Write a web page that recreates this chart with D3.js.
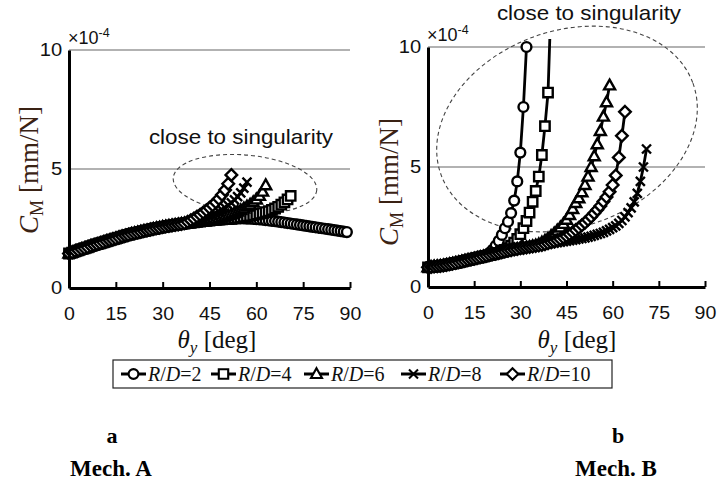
<!DOCTYPE html>
<html>
<head>
<meta charset="utf-8">
<script src="https://cdn.jsdelivr.net/npm/d3@7"></script>
<style>
  body { margin: 0; background: #fff; }
  svg text { font-family: "Liberation Sans", Arial, sans-serif; }
  .serif { font-family: "Liberation Serif", "Times New Roman", serif; }
</style>
</head>
<body>
<script>
// C_M values in units of 1e-4 mm/N, one point per degree of theta_y (starting at 0)
var xTicks = [0, 15, 30, 45, 60, 75, 90];
var yTicks = [0, 5, 10];
var ratios = ["2", "4", "6", "8", "10"];
var markerTypes = ["circle", "square", "triangle", "cross", "diamond"];

// Mech. A -- all curves coincide up to ~36 deg
var mechABase = [1.45, 1.49, 1.54, 1.58, 1.63, 1.67, 1.71, 1.76, 1.80, 1.84,
  1.88, 1.92, 1.96, 2.00, 2.04, 2.08, 2.12, 2.16, 2.20, 2.23,
  2.27, 2.30, 2.33, 2.36, 2.39, 2.42, 2.45, 2.48, 2.51, 2.53,
  2.56, 2.58, 2.61, 2.63, 2.65, 2.67, 2.69];
var mechA2 = mechABase.concat([2.71, 2.73, 2.74,
  2.76, 2.78, 2.79, 2.81, 2.82, 2.83, 2.85, 2.86, 2.87, 2.88,
  2.89, 2.90, 2.91, 2.91, 2.92, 2.92, 2.92, 2.91, 2.91, 2.90,
  2.89, 2.88, 2.87, 2.85, 2.84, 2.82, 2.81, 2.79, 2.77, 2.75,
  2.73, 2.71, 2.69, 2.67, 2.65, 2.63, 2.61, 2.59, 2.57, 2.55,
  2.53, 2.51, 2.49, 2.47, 2.45, 2.43, 2.41, 2.39, 2.37, 2.35]);
var mechA4 = mechABase.concat([2.71, 2.73, 2.74,
  2.76, 2.78, 2.79, 2.81, 2.82, 2.83, 2.85, 2.86, 2.87, 2.88,
  2.89, 2.90, 2.91, 2.93, 2.95, 2.97, 2.99, 3.01, 3.03, 3.06,
  3.09, 3.12, 3.15, 3.19, 3.23, 3.28, 3.34, 3.41, 3.50, 3.60,
  3.72, 3.87]);
var mechA6 = mechABase.concat([2.71, 2.73, 2.74,
  2.76, 2.78, 2.79, 2.81, 2.82, 2.84, 2.87, 2.90, 2.93, 2.97,
  3.01, 3.05, 3.10, 3.15, 3.21, 3.27, 3.34, 3.42, 3.50, 3.60,
  3.72, 3.87, 4.05, 4.32]);
var mechA8 = mechABase.concat([2.71, 2.73, 2.75,
  2.77, 2.80, 2.84, 2.88, 2.93, 2.99, 3.05, 3.12, 3.20, 3.28,
  3.37, 3.47, 3.58, 3.70, 3.84, 4.00, 4.20, 4.45]);
var mechA10 = mechABase.concat([2.72, 2.78, 2.85,
  2.92, 3.00, 3.08, 3.17, 3.27, 3.37, 3.48, 3.60, 3.75, 3.92,
  4.12, 4.38, 4.75]);

// Mech. B -- all curves coincide up to ~19 deg
var mechBBase = [0.82, 0.83, 0.85, 0.86, 0.88, 0.90, 0.92, 0.95, 0.97, 1.00,
  1.03, 1.06, 1.09, 1.12, 1.15, 1.18, 1.21, 1.24, 1.27, 1.30];
var mechB2 = mechBBase.concat([1.42, 1.55, 1.72, 1.92, 2.17, 2.45, 2.72, 3.08, 3.60, 4.40,
  5.60, 7.50, 10.0]);
var mechB4 = mechBBase.concat([1.33, 1.36, 1.39, 1.42, 1.46, 1.55, 1.62, 1.72, 1.85, 2.00,
  2.20, 2.45, 2.75, 3.10, 3.55, 4.00, 4.60, 5.50, 6.70, 8.10,
  12.0]);
var mechB6 = mechBBase.concat([1.33, 1.36, 1.39, 1.42, 1.45, 1.48, 1.51, 1.53, 1.56, 1.58,
  1.61, 1.63, 1.65, 1.67, 1.70, 1.73, 1.78, 1.85, 1.93, 2.02,
  2.12, 2.23, 2.35, 2.48, 2.63, 2.80, 3.00, 3.25, 3.50, 3.70,
  3.95, 4.25, 4.60, 5.00, 5.45, 5.95, 6.50, 7.10, 7.70, 8.40]);
var mechB8 = mechBBase.concat([1.33, 1.36, 1.39, 1.42, 1.45, 1.48, 1.51, 1.53, 1.56, 1.58,
  1.61, 1.63, 1.65, 1.67, 1.69, 1.71, 1.73, 1.75, 1.77, 1.79,
  1.81, 1.83, 1.85, 1.87, 1.89, 1.91, 1.93, 1.95, 1.97, 2.00,
  2.02, 2.05, 2.08, 2.11, 2.15, 2.19, 2.23, 2.28, 2.34, 2.40,
  2.47, 2.55, 2.65, 2.77, 2.92, 3.10, 3.30, 3.55, 3.90, 4.40,
  5.00, 5.75]);
var mechB10 = mechBBase.concat([1.33, 1.36, 1.39, 1.42, 1.45, 1.48, 1.51, 1.53, 1.56, 1.58,
  1.61, 1.63, 1.65, 1.67, 1.69, 1.71, 1.73, 1.75, 1.78, 1.82,
  1.86, 1.90, 1.95, 2.00, 2.06, 2.12, 2.20, 2.28, 2.37, 2.47,
  2.57, 2.68, 2.80, 2.93, 3.07, 3.22, 3.38, 3.56, 3.75, 3.97,
  4.25, 4.65, 5.40, 6.30, 7.30]);

var W = 718, H = 484;
var svg = d3.select("body").append("svg").attr("width", W).attr("height", H);

function markerShape(sel, type) {
  if (type === "circle") {
    sel.append("circle").attr("r", 4.9);
  } else {
    var d = {
      square: "M-4.7,-4.7h9.4v9.4h-9.4z",
      triangle: "M0,-5.8L5.5,4L-5.5,4Z",
      diamond: "M0,-5.8L5.8,0L0,5.8L-5.8,0Z",
      cross: "M-4.5,-4.5L4.5,4.5M4.5,-4.5L-4.5,4.5"
    }[type];
    sel.append("path").attr("d", d);
  }
}

function drawPanel(cfg) {
  var x = d3.scaleLinear().domain([0, 90]).range(cfg.xRange);
  var y = d3.scaleLinear().domain([0, 10]).range(cfg.yRange);
  var g = svg.append("g");

  // grid
  g.selectAll(".grid").data([5, 10]).enter().append("line")
    .attr("x1", x(0)).attr("x2", x(90))
    .attr("y1", function (d) { return y(d); }).attr("y2", function (d) { return y(d); })
    .attr("stroke", "#999").attr("stroke-width", 1.6);

  // dashed ellipse
  g.append("ellipse")
    .attr("transform", "translate(" + cfg.ell.cx + "," + cfg.ell.cy + ") rotate(" + cfg.ell.rot + ")")
    .attr("rx", cfg.ell.rx).attr("ry", cfg.ell.ry)
    .attr("fill", "none").attr("stroke", "#444").attr("stroke-width", 1.1)
    .attr("stroke-dasharray", "4,3");

  g.append("text")
    .attr("transform", "translate(" + cfg.note.x + "," + cfg.note.y + ") scale(1.12,1)")
    .attr("text-anchor", "middle").attr("font-size", 20).attr("fill", "#111")
    .text("close to singularity");

  var clipId = "clip" + cfg.id;
  svg.append("clipPath").attr("id", clipId).append("rect")
    .attr("x", x(0)).attr("y", y(10) - 8).attr("width", x(90) - x(0)).attr("height", y(0) - y(10) + 8);

  var line = d3.line()
    .x(function (d, i) { return x(i); })
    .y(function (d) { return y(d); });

  cfg.series.forEach(function (vals, k) {
    var sg = g.append("g");
    sg.append("path").datum(vals)
      .attr("clip-path", "url(#" + clipId + ")")
      .attr("d", line).attr("fill", "none").attr("stroke", "#000").attr("stroke-width", 2.8);
    var pts = vals.map(function (v, i) { return { t: i, v: v }; })
      .filter(function (p) { return p.v <= 10; });
    sg.selectAll(".m").data(pts).enter().append("g")
      .attr("transform", function (p) { return "translate(" + x(p.t) + "," + y(p.v) + ")"; })
      .attr("fill", "#fff").attr("stroke", "#000").attr("stroke-width", 2.4)
      .each(function () { markerShape(d3.select(this), markerTypes[k]); });
  });

  // x axis with inward ticks
  var xAxis = g.append("g").attr("transform", "translate(0," + y(0) + ")")
    .call(d3.axisBottom(x).tickValues(xTicks).tickSizeInner(-6).tickSizeOuter(0).tickPadding(20));
  xAxis.select(".domain").attr("stroke-width", 3);
  xAxis.selectAll(".tick line").attr("stroke-width", 2);
  xAxis.selectAll("text").attr("font-size", 17.5).attr("font-family", "Liberation Sans, Arial, sans-serif")
    .attr("fill", "#111").attr("transform", "scale(1.12,1)");

  var yAxis = g.append("g").attr("transform", "translate(" + x(0) + ",0)")
    .call(d3.axisLeft(y).tickValues(yTicks).tickSize(0).tickPadding(6));
  yAxis.select(".domain").attr("stroke-width", 3);
  yAxis.selectAll("text").attr("font-size", 18).attr("font-family", "Liberation Sans, Arial, sans-serif")
    .attr("fill", "#111").attr("transform", "scale(1.12,1)");

  // exponent
  var ex = g.append("text").attr("x", x(0) - 1).attr("y", y(10) - 6).attr("font-size", 18).attr("fill", "#111");
  ex.append("tspan").text("\u00d710");
  ex.append("tspan").attr("dy", -7).attr("font-size", 12.5).text("-4");

  // x title
  var xt = g.append("text").attr("class", "serif").attr("x", cfg.xTitle.x).attr("y", cfg.xTitle.y)
    .attr("text-anchor", "middle").attr("font-size", 25).attr("fill", "#111");
  xt.append("tspan").attr("font-style", "italic").text("\u03b8");
  xt.append("tspan").attr("font-style", "italic").attr("font-size", 17).attr("dy", 5).text("y");
  xt.append("tspan").attr("dy", -5).text(" [deg]");

  // y title
  var yt = g.append("text").attr("class", "serif")
    .attr("transform", "translate(" + cfg.yTitle.x + "," + cfg.yTitle.y + ") rotate(-90)")
    .attr("text-anchor", "middle").attr("font-size", 27).attr("fill", "#3a2214");
  yt.append("tspan").attr("font-style", "italic").text("C");
  yt.append("tspan").attr("font-size", 18).attr("dy", 5).text("M");
  yt.append("tspan").attr("dy", -5).text(" [mm/N]");

  // panel captions
  g.append("text").attr("class", "serif").attr("x", cfg.cap.x).attr("y", 443)
    .attr("text-anchor", "middle").attr("font-size", 22).attr("font-weight", "bold").text(cfg.cap.letter);
  g.append("text").attr("class", "serif").attr("x", cfg.cap.mx).attr("y", 476)
    .attr("font-size", 23).attr("font-weight", "bold").text(cfg.cap.mech);
}

drawPanel({
  id: "A", xRange: [69, 350], yRange: [288, 50],
  series: [mechA2, mechA4, mechA6, mechA8, mechA10],
  ell: { cx: 245, cy: 184, rx: 72, ry: 29, rot: 5 },
  note: { x: 241, y: 144 },
  xTitle: { x: 217, y: 348 }, yTitle: { x: 38, y: 170 },
  cap: { letter: "a", x: 112, mx: 70, mech: "Mech. A" }
});

drawPanel({
  id: "B", xRange: [428, 705], yRange: [287, 47],
  series: [mechB2, mechB4, mechB6, mechB8, mechB10],
  ell: { cx: 567, cy: 129, rx: 134, ry: 98, rot: -20 },
  note: { x: 589, y: 20 },
  xTitle: { x: 577, y: 348 }, yTitle: { x: 398, y: 182 },
  cap: { letter: "b", x: 618, mx: 575, mech: "Mech. B" }
});

// legend
var lg = svg.append("g");
lg.append("rect").attr("x", 113).attr("y", 360).attr("width", 499).attr("height", 28)
  .attr("fill", "#fff").attr("stroke", "#222").attr("stroke-width", 1.2);
var legX = [121, 211, 304, 401, 500];
ratios.forEach(function (r, k) {
  var e = lg.append("g").attr("transform", "translate(" + legX[k] + ",374)");
  e.append("line").attr("x1", 0).attr("x2", 25).attr("stroke", "#000").attr("stroke-width", 3);
  var m = e.append("g").attr("transform", "translate(12.5,0)")
    .attr("fill", "#fff").attr("stroke", "#000").attr("stroke-width", 2.1);
  markerShape(m, markerTypes[k]);
  var t = e.append("text").attr("class", "serif").attr("x", 27).attr("y", 7).attr("font-size", 20).attr("fill", "#111");
  t.append("tspan").attr("font-style", "italic").text("R");
  t.append("tspan").text("/");
  t.append("tspan").attr("font-style", "italic").text("D");
  t.append("tspan").text("=" + r);
});
</script>
</body>
</html>
